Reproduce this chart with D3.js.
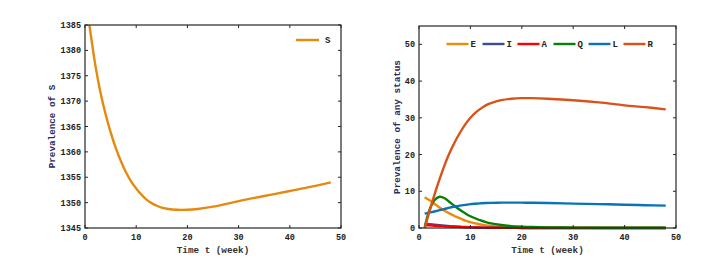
<!DOCTYPE html>
<html><head><meta charset="utf-8">
<script src="https://cdn.jsdelivr.net/npm/d3@7"></script>
<style>body{margin:0;background:#fff}svg{display:block}</style>
</head><body>
<svg id="c" width="721" height="259"></svg>
<script>
// Left panel: S
const sTime = [0.5, 1, 2, 3, 4, 5, 6, 7, 8, 9, 10, 11, 12, 13, 14, 15, 16, 18, 20, 22, 25, 30, 35, 40, 44, 48];
const sVals = [1387.5, 1384, 1377.2, 1371.8, 1367.5, 1363.9, 1360.8, 1358.2, 1356, 1354.2, 1352.8, 1351.6, 1350.6, 1349.9, 1349.4, 1349.0, 1348.8, 1348.6, 1348.6, 1348.75, 1349.2, 1350.3, 1351.3, 1352.3, 1353.1, 1354.0];

// Right panel: E I A Q L R
const tTime = [1.1, 2, 3, 4, 5, 6, 7, 8, 9, 10, 11, 12, 13, 14, 16, 18, 20, 22, 25, 30, 35, 40, 44, 48];
const eVals = [8.4, 7.6, 6.6, 5.6, 4.7, 3.9, 3.2, 2.6, 2.0, 1.6, 1.25, 0.95, 0.72, 0.55, 0.33, 0.2, 0.12, 0.08, 0.05, 0.03, 0.02, 0.01, 0.01, 0.01];
const iVals = [1.2, 1.05, 0.9, 0.76, 0.63, 0.52, 0.42, 0.34, 0.27, 0.21, 0.17, 0.13, 0.1, 0.08, 0.05, 0.03, 0.02, 0.01, 0, 0, 0, 0, 0, 0];
const aVals = [0.8, 0.72, 0.63, 0.55, 0.47, 0.4, 0.33, 0.27, 0.22, 0.18, 0.14, 0.11, 0.09, 0.07, 0.04, 0.03, 0.02, 0.01, 0, 0, 0, 0, 0, 0];
const qVals = [0, 4.8, 7.6, 8.5, 8.1, 7.0, 5.9, 4.9, 4.0, 3.2, 2.6, 2.05, 1.6, 1.25, 0.8, 0.52, 0.36, 0.26, 0.18, 0.11, 0.08, 0.06, 0.05, 0.05];
const lVals = [3.9, 4.2, 4.5, 4.85, 5.2, 5.55, 5.85, 6.1, 6.3, 6.5, 6.62, 6.72, 6.8, 6.85, 6.9, 6.92, 6.9, 6.87, 6.8, 6.65, 6.5, 6.35, 6.2, 6.1];
const rVals = [0, 4.3, 9.0, 13.3, 17.2, 20.6, 23.5, 26.0, 28.2, 30.0, 31.4, 32.5, 33.4, 34.0, 34.8, 35.2, 35.35, 35.35, 35.2, 34.8, 34.2, 33.4, 32.9, 32.3];

const seriesNames = ["E", "I", "A", "Q", "L", "R"];
const seriesColors = ["#EB8A0C", "#3B4E8C", "#FF0000", "#068006", "#0A72BD", "#D95319"];
const seriesData = [eVals, iVals, aVals, qVals, lVals, rVals];

const xTicks = [0, 10, 20, 30, 40, 50];
const sTicks = [1345, 1350, 1355, 1360, 1365, 1370, 1375, 1380, 1385];
const rTicks = [0, 10, 20, 30, 40, 50];

const svg = d3.select("#c");
const tickFont = "'Liberation Mono', 'DejaVu Sans Mono', monospace";
const axisColor = "#262626";

function frame(g, x, y, xt, yt, w, h) {
  g.append("rect").attr("x", 0).attr("y", 0).attr("width", w).attr("height", h)
    .attr("fill", "none").attr("stroke", axisColor).attr("stroke-width", 1.2);
  const tl = 3;
  xt.forEach(v => {
    const px = x(v);
    g.append("line").attr("x1", px).attr("x2", px).attr("y1", h).attr("y2", h - tl).attr("stroke", axisColor);
    g.append("line").attr("x1", px).attr("x2", px).attr("y1", 0).attr("y2", tl).attr("stroke", axisColor);
    g.append("text").attr("x", px).attr("y", h + 12).attr("text-anchor", "middle")
      .attr("font-family", tickFont).attr("font-weight", "bold").attr("font-size", 8.5).attr("fill", "#222").text(v);
  });
  yt.forEach(v => {
    const py = y(v);
    g.append("line").attr("x1", 0).attr("x2", tl).attr("y1", py).attr("y2", py).attr("stroke", axisColor);
    g.append("line").attr("x1", w).attr("x2", w - tl).attr("y1", py).attr("y2", py).attr("stroke", axisColor);
    g.append("text").attr("x", -4).attr("y", py + 3).attr("text-anchor", "end")
      .attr("font-family", tickFont).attr("font-weight", "bold").attr("font-size", 8.5).attr("fill", "#222").text(v);
  });
}

// Left panel
{
  const L = 85, T = 25, W = 256, H = 203;
  const g = svg.append("g").attr("transform", `translate(${L},${T})`);
  const x = d3.scaleLinear().domain([0, 50]).range([0, W]);
  const y = d3.scaleLinear().domain([1345, 1385]).range([H, 0]);
  svg.append("clipPath").attr("id", "clipL").append("rect").attr("x", 0).attr("y", 0).attr("width", W).attr("height", H);
  const line = d3.line().x((d, i) => x(sTime[i])).y(d => y(d)).curve(d3.curveCatmullRom.alpha(0.5));
  g.append("path").attr("clip-path", "url(#clipL)").attr("d", line(sVals))
    .attr("fill", "none").attr("stroke", "#E6890F").attr("stroke-width", 2.4);
  frame(g, x, y, xTicks, sTicks, W, H);
  // legend
  g.append("line").attr("x1", 211).attr("x2", 234).attr("y1", 15).attr("y2", 15)
    .attr("stroke", "#E6890F").attr("stroke-width", 2.4);
  g.append("text").attr("x", 240).attr("y", 18).attr("font-family", tickFont).attr("font-weight", "bold")
    .attr("font-size", 9).attr("fill", "#222").text("S");
  svg.append("text").attr("x", L + W / 2).attr("y", 253).attr("text-anchor", "middle")
    .attr("font-family", tickFont).attr("font-weight", "bold").attr("font-size", 9.3).attr("fill", "#333").text("Time t (week)");
  svg.append("text").attr("transform", `translate(55,${T + H / 2}) rotate(-90)`).attr("text-anchor", "middle")
    .attr("font-family", tickFont).attr("font-weight", "bold").attr("font-size", 9.3).attr("fill", "#2a2a5c").text("Prevalence of S");
}

// Right panel
{
  const L = 419, T = 26, W = 257, H = 202;
  const g = svg.append("g").attr("transform", `translate(${L},${T})`);
  const x = d3.scaleLinear().domain([0, 50]).range([0, W]);
  const y = d3.scaleLinear().domain([0, 55]).range([H, 0]);
  const line = d3.line().x((d, i) => x(tTime[i])).y(d => y(d)).curve(d3.curveCatmullRom.alpha(0.5));
  seriesData.forEach((vals, k) => {
    g.append("path").attr("d", line(vals)).attr("fill", "none")
      .attr("stroke", seriesColors[k]).attr("stroke-width", 2.4);
  });
  frame(g, x, y, xTicks, rTicks, W, H);
  const legStart = [27.5, 63.5, 98.5, 134.5, 169.5, 204.5];
  seriesNames.forEach((n, k) => {
    g.append("line").attr("x1", legStart[k]).attr("x2", legStart[k] + 22).attr("y1", 18).attr("y2", 18)
      .attr("stroke", seriesColors[k]).attr("stroke-width", 2.4);
    g.append("text").attr("x", legStart[k] + 24).attr("y", 21).attr("font-family", tickFont).attr("font-weight", "bold")
      .attr("font-size", 9).attr("fill", "#222").text(n);
  });
  svg.append("text").attr("x", L + W / 2).attr("y", 253).attr("text-anchor", "middle")
    .attr("font-family", tickFont).attr("font-weight", "bold").attr("font-size", 9.3).attr("fill", "#333").text("Time t (week)");
  svg.append("text").attr("transform", `translate(400,${T + H / 2}) rotate(-90)`).attr("text-anchor", "middle")
    .attr("font-family", tickFont).attr("font-weight", "bold").attr("font-size", 9.3).attr("fill", "#2a2a5c").text("Prevalence of any status");
}
</script>
</body></html>
